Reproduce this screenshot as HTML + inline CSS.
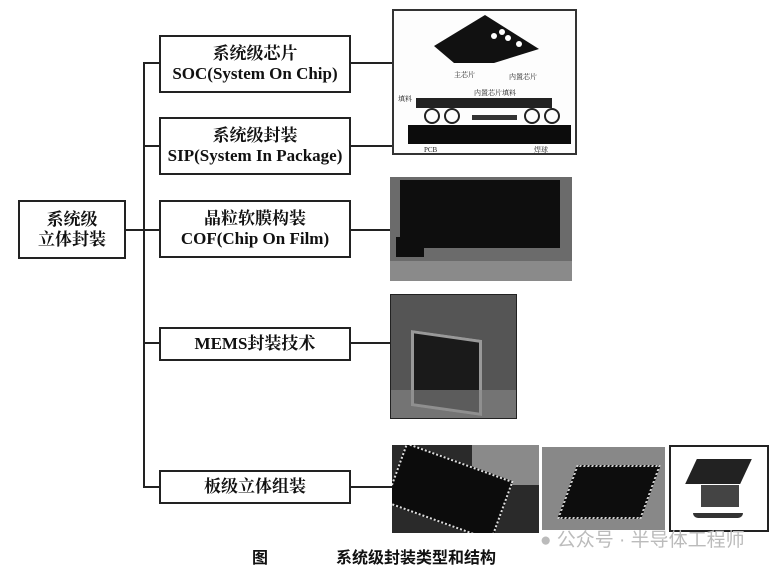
<!DOCTYPE html>
<html><head><meta charset="utf-8"><style>
body{margin:0;width:779px;height:567px;background:#fff;position:relative;overflow:hidden;font-family:"Liberation Serif","Noto Serif CJK SC",serif;color:#111}
.a{position:absolute}
.box{position:absolute;border:2px solid #222;box-sizing:border-box;text-align:center;font-size:17px;line-height:20px;display:flex;flex-direction:column;justify-content:center;font-weight:bold}
.h{position:absolute;height:2px;background:#222}
.v{position:absolute;width:2px;background:#222}
.img{position:absolute;background:#1a1a1a;overflow:hidden}
</style></head><body>
<div class="box" style="left:18px;top:200px;width:108px;height:59px">系统级<br>立体封装</div>
<div class="h" style="left:126px;top:229px;width:33px"></div>
<div class="v" style="left:143px;top:62px;height:426px"></div>
<div class="h" style="left:143px;top:62px;width:16px"></div>
<div class="h" style="left:143px;top:145px;width:16px"></div>
<div class="h" style="left:143px;top:342px;width:16px"></div>
<div class="h" style="left:143px;top:486px;width:16px"></div>

<div class="box" style="left:159px;top:35px;width:192px;height:58px">系统级芯片<br>SOC(System On Chip)</div>
<div class="box" style="left:159px;top:117px;width:192px;height:58px">系统级封装<br>SIP(System In Package)</div>
<div class="box" style="left:159px;top:200px;width:192px;height:58px">晶粒软膜构装<br>COF(Chip On Film)</div>
<div class="box" style="left:159px;top:327px;width:192px;height:34px">MEMS封装技术</div>
<div class="box" style="left:159px;top:470px;width:192px;height:34px">板级立体组装</div>

<div class="h" style="left:351px;top:62px;width:41px"></div>
<div class="h" style="left:351px;top:145px;width:41px"></div>
<div class="h" style="left:351px;top:229px;width:40px"></div>
<div class="h" style="left:351px;top:342px;width:40px"></div>
<div class="h" style="left:351px;top:486px;width:42px"></div>

<div class="a" style="left:392px;top:9px;width:185px;height:146px;border:2px solid #333;box-sizing:border-box;background:#fdfdfd">
<svg width="181" height="142" style="position:absolute;left:0;top:0">
<polygon points="40,35 91,4 145,38 100,52 60,52" fill="#111"/>
<circle cx="100" cy="25" r="3" fill="#fff"/><circle cx="108" cy="21" r="3" fill="#fff"/><circle cx="114" cy="27" r="3" fill="#fff"/><circle cx="125" cy="33" r="3" fill="#fff"/>
<text x="60" y="66" font-size="7" fill="#222">主芯片</text><text x="115" y="68" font-size="7" fill="#222">内置芯片</text>
<text x="80" y="84" font-size="7" fill="#222">内置芯片填料</text><text x="4" y="90" font-size="7" fill="#222">填料</text>
<rect x="22" y="87" width="136" height="10" fill="#222"/>
<circle cx="38" cy="105" r="7" fill="none" stroke="#222" stroke-width="2"/><circle cx="58" cy="105" r="7" fill="none" stroke="#222" stroke-width="2"/>
<circle cx="138" cy="105" r="7" fill="none" stroke="#222" stroke-width="2"/><circle cx="158" cy="105" r="7" fill="none" stroke="#222" stroke-width="2"/>
<rect x="78" y="104" width="45" height="5" fill="#333"/>
<rect x="14" y="114" width="163" height="19" fill="#0c0c0c"/>
<text x="30" y="141" font-size="7" fill="#222">PCB</text><text x="140" y="141" font-size="7" fill="#222">焊球</text>
</svg></div>

<div class="img" style="left:390px;top:177px;width:182px;height:104px;background:#6b6b6b">
<div class="a" style="left:10px;top:3px;width:160px;height:68px;background:#0e0e0e"></div>
<div class="a" style="left:6px;top:60px;width:28px;height:20px;background:#0e0e0e"></div>
<div class="a" style="left:0;top:84px;width:182px;height:20px;background:#8a8a8a"></div>
</div>

<div class="img" style="left:390px;top:294px;width:125px;height:123px;background:#555;border:1px solid #222">
<div class="a" style="left:20px;top:40px;width:65px;height:70px;background:#1a1a1a;border:3px solid #999;transform:skewY(8deg)"></div>
<div class="a" style="left:0;top:95px;width:125px;height:28px;background:#888;opacity:.6"></div>
</div>

<div class="img" style="left:392px;top:445px;width:147px;height:88px;background:#2a2a2a">
<div class="a" style="left:80px;top:0;width:67px;height:40px;background:#8a8a8a"></div>
<div class="a" style="left:0;top:15px;width:110px;height:60px;background:#0c0c0c;border:2px dotted #ddd;transform:rotate(20deg)"></div>
</div>
<div class="img" style="left:542px;top:447px;width:123px;height:83px;background:#888">
<div class="a" style="left:25px;top:18px;width:80px;height:50px;background:#0d0d0d;border:2px dotted #ccc;transform:skewX(-20deg)"></div>
</div>
<div class="a" style="left:669px;top:445px;width:100px;height:87px;border:2px solid #222;box-sizing:border-box;background:#fff">
<div class="a" style="left:20px;top:12px;width:55px;height:25px;background:#222;transform:skewX(-25deg)"></div>
<div class="a" style="left:30px;top:38px;width:38px;height:22px;background:#444"></div>
<div class="a" style="left:22px;top:66px;width:50px;height:5px;background:#333;border-radius:0 0 20px 20px"></div>
</div>

<div class="a" style="left:540px;top:525px;font-family:'Liberation Sans','Noto Sans CJK SC',sans-serif;font-size:19px;color:#bbb">● 公众号 · 半导体工程师</div>
<div class="a" style="left:252px;top:544px;font-size:16px;font-weight:bold;font-family:'Liberation Sans','Noto Sans CJK SC',sans-serif">图</div>
<div class="a" style="left:336px;top:544px;font-size:16px;font-weight:bold;font-family:'Liberation Sans','Noto Sans CJK SC',sans-serif">系统级封装类型和结构</div>
</body></html>
